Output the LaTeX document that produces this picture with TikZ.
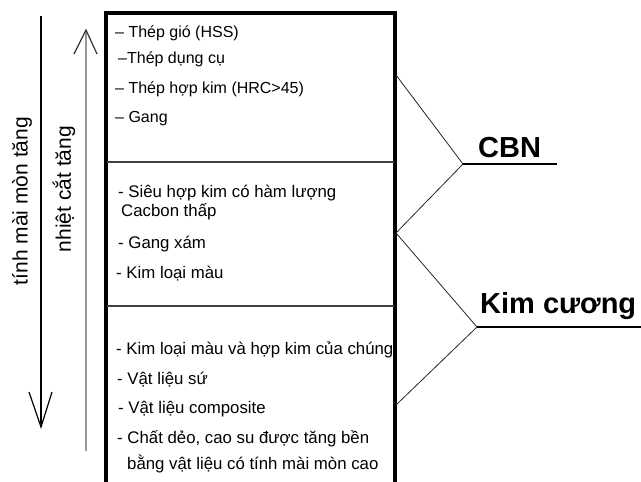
\documentclass[tikz,border=0pt]{standalone}
\usepackage{fontspec}
\setmainfont{Liberation Sans}
\begin{document}
\begin{tikzpicture}[x=1pt,y=-1pt,
  itemtext/.style={anchor=base west,inner sep=0pt,font=\fontsize{16.8}{19}\selectfont},
  toptext/.style={anchor=base west,inner sep=0pt,font=\fontsize{16}{19}\selectfont},
  sidetext/.style={rotate=90,inner sep=0pt,font=\fontsize{21}{24}\selectfont},
  bigtext/.style={anchor=base west,inner sep=0pt,font=\fontsize{29}{32}\selectfont\bfseries},
  thin line/.style={line width=0.8pt,black!85},
  under/.style={line width=2.2pt,black},
  divider/.style={line width=1.6pt,black!75},
  boxline/.style={line width=3.2pt,black}]
\useasboundingbox (0,0) rectangle (641,482);
% side arrows
\coordinate (a1top) at (41,16);
\coordinate (a1tip) at (41,427);
\coordinate (a1l) at (29,392);
\coordinate (a1r) at (52,392);
\draw[line width=1.2pt] (a1top) -- (a1tip);
\draw[line width=1.2pt] (a1l) -- (a1tip) -- (a1r);
\coordinate (a2bot) at (86,451);
\coordinate (a2tip) at (86,30);
\coordinate (a2l) at (74,54);
\coordinate (a2r) at (97,54);
\draw[line width=1.5pt,black!40] (a2bot) -- (a2tip);
\draw[line width=1.2pt,black!80] (a2l) -- (a2tip) -- (a2r);
\node[sidetext] (t1) at (22,201) {tính mài mòn tăng};
\node[sidetext] (t2) at (64,189) {nhiệt cắt tăng};
% box
\coordinate (bl) at (106,484);
\coordinate (tl) at (106,13);
\coordinate (tr) at (395,13);
\coordinate (br) at (395,484);
\draw[boxline] (bl) -- (tl) -- (tr) -- (br);
\coordinate (d1l) at (107,162);
\coordinate (d1r) at (394,162);
\coordinate (d2l) at (107,306);
\coordinate (d2r) at (394,306);
\draw[divider] (d1l) -- (d1r);
\draw[divider] (d2l) -- (d2r);
% section 1
\node[toptext] (s1a) at (115,37) {– Thép gió (HSS)};
\node[toptext] (s1b) at (118,63) {–Thép dụng cụ};
\node[toptext] (s1c) at (115,93) {– Thép hợp kim (HRC>45)};
\node[toptext] (s1d) at (115,122) {– Gang};
% section 2
\node[itemtext] (s2a) at (118,197) {- Siêu hợp kim có hàm lượng};
\node[itemtext] (s2b) at (121,216) {Cacbon thấp};
\node[itemtext] (s2c) at (118,248) {- Gang xám};
\node[itemtext] (s2d) at (116,278) {- Kim loại màu};
% section 3
\node[itemtext] (s3a) at (116,354) {- Kim loại màu và hợp kim của chúng};
\node[itemtext] (s3b) at (117,384) {- Vật liệu sứ};
\node[itemtext] (s3c) at (118,413) {- Vật liệu composite};
\node[itemtext] (s3d) at (117,443) {- Chất dẻo, cao su được tăng bền};
\node[itemtext] (s3e) at (127,469) {bằng vật liệu có tính mài mòn cao};
% braces
\coordinate (c1) at (396,75);
\coordinate (cv) at (463,164);
\coordinate (cm) at (396,233);
\coordinate (ce) at (557,164);
\coordinate (kv) at (477,327);
\coordinate (ke) at (641,327);
\coordinate (k2) at (396,405);
\draw[thin line] (c1) -- (cv) -- (cm) -- (kv) -- (k2);
\draw[under] (cv) -- (ce);
\draw[under] (kv) -- (ke);
\node[bigtext] (cbn) at (478,157) {CBN};
\node[bigtext] (kc) at (480,313) {Kim cương};
\end{tikzpicture}
\end{document}
